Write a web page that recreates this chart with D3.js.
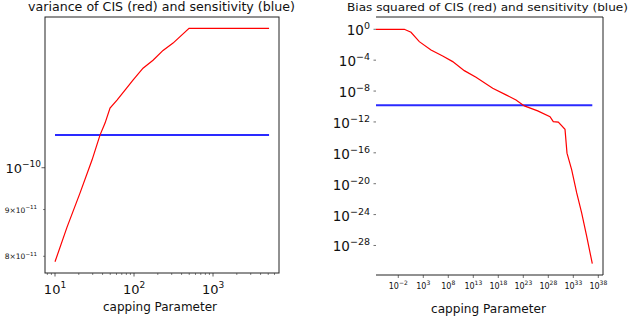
<!DOCTYPE html>
<html>
<head>
<meta charset="utf-8">
<script src="https://cdn.jsdelivr.net/npm/d3@7"></script>
<style>
  body { margin: 0; background: #fff; }
  svg { display: block; font-family: "DejaVu Sans", sans-serif; }
</style>
</head>
<body>
<svg id="chart" width="632" height="316"></svg>
<script>
// left panel: variance
const varCap = [10, 14.2, 20.7, 29.4, 37.1, 43.0, 49.7, 60.9, 76.9, 97.0, 130, 174, 233, 312, 497, 5120];
const varCIS = [7.89e-11, 8.61e-11, 9.38e-11, 1.0195e-10, 1.0857e-10, 1.119e-10, 1.162e-10, 1.186e-10,
                1.216e-10, 1.247e-10, 1.285e-10, 1.311e-10, 1.344e-10, 1.369e-10, 1.421e-10, 1.421e-10];
const varSensCap = [10, 5120];
const varSens = [1.086e-10, 1.086e-10];

// right panel: bias squared
const biasCap = [3.5e-7, 0.16, 3.5, 160, 3.5e4, 7.6e6, 7.6e8, 1.6e11, 3.5e13, 7.6e16, 3.5e19, 3.5e21,
                 1.6e23, 7.6e25, 2.2e28, 1e29, 1e30, 2.2e31, 5.5e31, 4.8e32, 4.8e33, 4.8e34, 4.8e35, 6.3e36];
const biasCIS = [1, 1, 0.41, 0.025, 2.1e-3, 3.5e-4, 6.5e-5, 4.4e-6, 6.2e-7, 2.3e-8, 3.2e-9, 7.1e-10,
                 1.2e-10, 2.7e-11, 4.9e-12, 1.1e-12, 9.3e-13, 1.1e-13, 9.1e-17, 6.3e-19, 6.3e-22, 1.6e-24,
                 1.5e-27, 4.4e-31];
const biasSensCap = [3.5e-7, 6.3e36];
const biasSens = [1.47e-10, 1.47e-10];

// tick labels
const leftXTicks = [10, 100, 1000];
const leftXTickExp = ["1", "2", "3"];
const leftYMajor = [1e-10];
const leftYMajorLabel = ["\u221210"];
const leftYMinor = [9e-11, 8e-11];
const leftYMinorLabel = [["9", "\u221211"], ["8", "\u221211"]];
const rightXTicks = [1e-2, 1e3, 1e8, 1e13, 1e18, 1e23, 1e28, 1e33, 1e38];
const rightXTickExp = ["\u22122", "3", "8", "13", "18", "23", "28", "33", "38"];
const rightYTicks = [1, 1e-4, 1e-8, 1e-12, 1e-16, 1e-20, 1e-24, 1e-28];
const rightYTickExp = ["0", "\u22124", "\u22128", "\u221212", "\u221216", "\u221220", "\u221224", "\u221228"];

const svg = d3.select("#chart");

function supLabel(g, base, exp, size, supSize) {
    g.append("tspan").attr("font-size", size).text(base);
    g.append("tspan").attr("font-size", supSize).attr("dy", -size * 0.45).text(exp);
}

// ---------- left panel ----------
const L = { x0: 45, x1: 279, y0: 17, y1: 273 };
const lx = d3.scaleLog().domain([7.47, 6840]).range([L.x0, L.x1]);
const ly = d3.scaleLog().domain([7.67e-11, 1.462e-10]).range([L.y1, L.y0]);

const left = svg.append("g");

// minor x ticks
const lxMinor = [];
[1, 10, 100, 1000].forEach(d => { for (let k = 2; k < 10; k++) lxMinor.push(d * k); });
left.selectAll(".lxm")
    .data(lxMinor.filter(v => v >= lx.domain()[0] && v <= lx.domain()[1]))
    .join("line")
    .attr("x1", d => lx(d)).attr("x2", d => lx(d))
    .attr("y1", L.y1).attr("y2", L.y1 + 2)
    .attr("stroke", "#333").attr("stroke-width", 0.6);
left.selectAll(".lxM").data(leftXTicks).join("line")
    .attr("x1", d => lx(d)).attr("x2", d => lx(d))
    .attr("y1", L.y1).attr("y2", L.y1 + 3.5)
    .attr("stroke", "#333").attr("stroke-width", 0.8);
left.selectAll(".lxl").data(leftXTicks).join("text")
    .attr("x", d => lx(d)).attr("y", 294)
    .attr("text-anchor", "middle").attr("fill", "#111")
    .each(function(d, i) { supLabel(d3.select(this), "10", leftXTickExp[i], 13, 9); });

// y ticks
left.selectAll(".lyM").data(leftYMajor).join("line")
    .attr("x1", L.x0 - 3.5).attr("x2", L.x0)
    .attr("y1", d => ly(d)).attr("y2", d => ly(d))
    .attr("stroke", "#333").attr("stroke-width", 0.8);
left.selectAll(".lym").data(leftYMinor).join("line")
    .attr("x1", L.x0 - 2).attr("x2", L.x0)
    .attr("y1", d => ly(d)).attr("y2", d => ly(d))
    .attr("stroke", "#333").attr("stroke-width", 0.6);
left.selectAll(".lyl").data(leftYMajor).join("text")
    .attr("x", 41).attr("y", d => ly(d) + 5)
    .attr("text-anchor", "end").attr("fill", "#111")
    .each(function(d, i) { supLabel(d3.select(this), "10", leftYMajorLabel[i], 13, 9); });
left.selectAll(".lyml").data(leftYMinor).join("text")
    .attr("x", 37).attr("y", d => ly(d) + 3)
    .attr("text-anchor", "end").attr("fill", "#111")
    .each(function(d, i) {
        supLabel(d3.select(this), leftYMinorLabel[i][0] + "\u00d710", leftYMinorLabel[i][1], 7.5, 5.5);
    });

const lLine = d3.line().x(d => lx(d[0])).y(d => ly(d[1]));
left.append("path")
    .attr("d", lLine(d3.zip(varSensCap, varSens)))
    .attr("fill", "none").attr("stroke", "#2a2aff").attr("stroke-width", 2);
left.append("path")
    .attr("d", lLine(d3.zip(varCap, varCIS)))
    .attr("fill", "none").attr("stroke", "#ff0000").attr("stroke-width", 1.2);

left.append("rect")
    .attr("x", L.x0).attr("y", L.y0).attr("width", L.x1 - L.x0).attr("height", L.y1 - L.y0)
    .attr("fill", "none").attr("stroke", "#222").attr("stroke-width", 1);

left.append("text")
    .attr("x", (28 + 295) / 2).attr("y", 11)
    .attr("text-anchor", "middle").attr("font-size", 11.5).attr("fill", "#111")
    .attr("textLength", 267).attr("lengthAdjust", "spacingAndGlyphs")
    .text("variance of CIS (red) and sensitivity (blue)");
left.append("text")
    .attr("x", 160).attr("y", 311)
    .attr("text-anchor", "middle").attr("font-size", 12.5).attr("fill", "#111")
    .attr("textLength", 114).attr("lengthAdjust", "spacingAndGlyphs")
    .text("capping Parameter");

// ---------- right panel ----------
const R = { x0: 376, x1: 603, y0: 17, y1: 275 };
const rx = d3.scaleLog().domain([3.5e-7, 8.7e38]).range([R.x0, R.x1]);
const ry = d3.scaleLog().domain([1.5e-32, 39]).range([R.y1, R.y0]);

const right = svg.append("g");

right.selectAll(".rxt").data(rightXTicks).join("line")
    .attr("x1", d => rx(d)).attr("x2", d => rx(d))
    .attr("y1", R.y1).attr("y2", R.y1 + 3)
    .attr("stroke", "#333").attr("stroke-width", 0.7);
right.selectAll(".rxl").data(rightXTicks).join("text")
    .attr("x", d => rx(d)).attr("y", 289)
    .attr("text-anchor", "middle").attr("fill", "#111")
    .each(function(d, i) { supLabel(d3.select(this), "10", rightXTickExp[i], 8, 6); });

right.selectAll(".ryt").data(rightYTicks).join("line")
    .attr("x1", R.x0 - 2.5).attr("x2", R.x0)
    .attr("y1", d => ry(d)).attr("y2", d => ry(d))
    .attr("stroke", "#333").attr("stroke-width", 0.7);
right.selectAll(".ryl").data(rightYTicks).join("text")
    .attr("x", 370).attr("y", d => ry(d) + 6)
    .attr("text-anchor", "end").attr("fill", "#111")
    .each(function(d, i) { supLabel(d3.select(this), "10", rightYTickExp[i], 13.5, 9.5); });

const rLine = d3.line().x(d => rx(d[0])).y(d => ry(d[1]));
right.append("path")
    .attr("d", rLine(d3.zip(biasSensCap, biasSens)))
    .attr("fill", "none").attr("stroke", "#2a2aff").attr("stroke-width", 2);
right.append("path")
    .attr("d", rLine(d3.zip(biasCap, biasCIS)))
    .attr("fill", "none").attr("stroke", "#ff0000").attr("stroke-width", 1.2);

// spines: top, right, bottom
right.append("path")
    .attr("d", `M${R.x0},${R.y0}H${R.x1}V${R.y1}H${R.x0}`)
    .attr("fill", "none").attr("stroke", "#222").attr("stroke-width", 1);

right.append("text")
    .attr("x", 487.5).attr("y", 11)
    .attr("text-anchor", "middle").attr("font-size", 11).attr("fill", "#111")
    .attr("textLength", 281).attr("lengthAdjust", "spacingAndGlyphs")
    .text("Bias squared of CIS (red) and sensitivity (blue)");
right.append("text")
    .attr("x", 488.5).attr("y", 313)
    .attr("text-anchor", "middle").attr("font-size", 12.5).attr("fill", "#111")
    .attr("textLength", 115).attr("lengthAdjust", "spacingAndGlyphs")
    .text("capping Parameter");
</script>
</body>
</html>
